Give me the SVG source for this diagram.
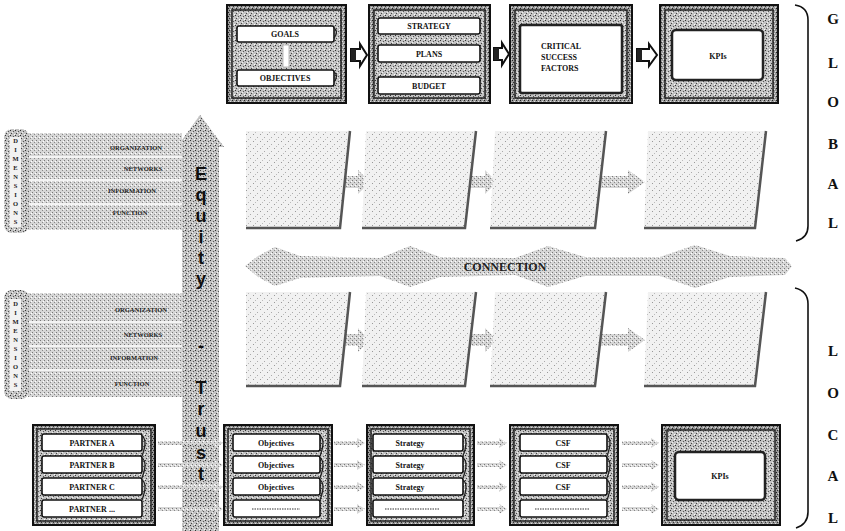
<svg xmlns="http://www.w3.org/2000/svg" width="845" height="531" viewBox="0 0 845 531">
<defs>
  <pattern id="pm" width="5" height="5" patternUnits="userSpaceOnUse">
    <rect width="5" height="5" fill="#c2c2c2"/>
    <rect x="0" y="0" width="1" height="1" fill="#333"/>
    <rect x="3" y="1" width="1" height="1" fill="#555"/>
    <rect x="1" y="3" width="1" height="1" fill="#444"/>
    <rect x="4" y="4" width="1" height="1" fill="#fff"/>
    <rect x="2" y="2" width="1" height="1" fill="#eee"/>
  </pattern>
  <pattern id="pd" width="4" height="4" patternUnits="userSpaceOnUse">
    <rect width="4" height="4" fill="#9a9a9a"/>
    <rect x="0" y="0" width="1" height="1" fill="#222"/>
    <rect x="2" y="1" width="1" height="1" fill="#e0e0e0"/>
    <rect x="1" y="2" width="1" height="1" fill="#333"/>
    <rect x="3" y="3" width="1" height="1" fill="#ddd"/>
  </pattern>
  <pattern id="pl" width="7" height="7" patternUnits="userSpaceOnUse">
    <rect width="7" height="7" fill="#f1f1f1"/>
    <rect x="1" y="1" width="1" height="1" fill="#999"/>
    <rect x="5" y="4" width="1" height="1" fill="#aaa"/>
    <rect x="3" y="6" width="1" height="1" fill="#bbb"/>
  </pattern>
  <pattern id="pb" width="4" height="4" patternUnits="userSpaceOnUse">
    <rect width="4" height="4" fill="#d6d6d6"/>
    <rect x="0" y="0" width="1" height="1" fill="#777"/>
    <rect x="2" y="2" width="1" height="1" fill="#888"/>
    <rect x="3" y="1" width="1" height="1" fill="#fff"/>
  </pattern>
  <style>
    .frame{fill:url(#pd);stroke:#111;stroke-width:2}
    .inner{fill:url(#pm);stroke:#222;stroke-width:1.5}
    .bar{fill:#fff;stroke:#111;stroke-width:1.6}
    .curl{fill:none;stroke:#222;stroke-width:1.3}
    .win{fill:#fff;stroke:#222;stroke-width:2.5}
    .t{font-family:"Liberation Serif",serif;font-weight:bold;font-size:8px;fill:#111;text-anchor:middle}
    .tl{font-family:"Liberation Serif",serif;font-weight:bold;font-size:8px;fill:#111;text-anchor:start}
    .ts{font-family:"Liberation Serif",serif;font-weight:bold;font-size:6.5px;fill:#222;text-anchor:middle}
    .big{font-family:"Liberation Serif",serif;font-weight:bold;font-size:15px;fill:#111;text-anchor:middle}
    .eq{font-family:"Liberation Sans",Arial,sans-serif;font-weight:bold;font-size:18px;fill:#111;text-anchor:middle}
    .para{fill:url(#pl)}
    .edge{fill:none;stroke:#555;stroke-width:2.5}
    .fz{fill:url(#pb)}
    .blk{fill:#fff;stroke:#111;stroke-width:2}
    .brk{fill:none;stroke:#111;stroke-width:1.6}
    .dot{stroke:#333;stroke-width:1;stroke-dasharray:1.5 1}
    .row{stroke:#f4f4f4;stroke-width:2}
  </style>
</defs>
<rect width="845" height="531" fill="#fff"/>

<!-- Equity-Trust vertical arrow -->
<g id="equity-trust">
  <polygon points="200,115 224,147 219,147 219,531 182,531 182,147 177,147" fill="url(#pm)"/>
  <text class="eq" x="201" y="180">E</text>
  <text class="eq" x="201" y="201">q</text>
  <text class="eq" x="201" y="222">u</text>
  <text class="eq" x="201" y="243">i</text>
  <text class="eq" x="201" y="264">t</text>
  <text class="eq" x="201" y="285">y</text>
  <text class="eq" x="201" y="352">-</text>
  <text class="eq" x="201" y="394">T</text>
  <text class="eq" x="201" y="415">r</text>
  <text class="eq" x="201" y="437">u</text>
  <text class="eq" x="201" y="459">s</text>
  <text class="eq" x="201" y="480">t</text>
</g>

<!-- Left stubs -->
<g id="global-stub">
  <rect x="28" y="133" width="154" height="97" fill="url(#pb)"/>
  <line class="row" x1="28" y1="157" x2="182" y2="157"/>
  <line class="row" x1="28" y1="180" x2="182" y2="180"/>
  <line class="row" x1="28" y1="204" x2="182" y2="204"/>
  <rect x="4" y="129" width="25" height="104" rx="8" fill="url(#pm)"/>
  <rect x="10" y="137" width="11" height="90" fill="#f2f2f2"/>
  <text class="ts" x="15.5" y="143">D<tspan x="15.5" dy="9">I</tspan><tspan x="15.5" dy="9">M</tspan><tspan x="15.5" dy="9">E</tspan><tspan x="15.5" dy="9">N</tspan><tspan x="15.5" dy="9">S</tspan><tspan x="15.5" dy="9">I</tspan><tspan x="15.5" dy="9">O</tspan><tspan x="15.5" dy="9">N</tspan><tspan x="15.5" dy="9">S</tspan></text>
  <text class="ts" x="136" y="150">ORGANIZATION</text>
  <text class="ts" x="143" y="171">NETWORKS</text>
  <text class="ts" x="132" y="193">INFORMATION</text>
  <text class="ts" x="130" y="215">FUNCTION</text>
</g>
<g id="local-stub">
  <rect x="28" y="293" width="154" height="104" fill="url(#pb)"/>
  <line class="row" x1="28" y1="322" x2="182" y2="322"/>
  <line class="row" x1="28" y1="346" x2="182" y2="346"/>
  <line class="row" x1="28" y1="370" x2="182" y2="370"/>
  <rect x="4" y="290" width="25" height="109" rx="8" fill="url(#pm)"/>
  <rect x="10" y="299" width="11" height="92" fill="#f2f2f2"/>
  <text class="ts" x="15.5" y="306">D<tspan x="15.5" dy="9">I</tspan><tspan x="15.5" dy="9">M</tspan><tspan x="15.5" dy="9">E</tspan><tspan x="15.5" dy="9">N</tspan><tspan x="15.5" dy="9">S</tspan><tspan x="15.5" dy="9">I</tspan><tspan x="15.5" dy="9">O</tspan><tspan x="15.5" dy="9">N</tspan><tspan x="15.5" dy="9">S</tspan></text>
  <text class="ts" x="141" y="312">ORGANIZATION</text>
  <text class="ts" x="143" y="337">NETWORKS</text>
  <text class="ts" x="134" y="360">INFORMATION</text>
  <text class="ts" x="132" y="386">FUNCTION</text>
</g>

<!-- Connectors -->
<g id="connectors">
  <polygon class="blk" points="351,49 360,49 360,44 367,55 360,66 360,61 351,61"/>
  <rect x="351" y="49" width="5" height="12" fill="#222"/>
  <polygon class="blk" points="494,48 502,48 502,43 509,54 502,65 502,60 494,60"/>
  <rect x="494" y="48" width="5" height="12" fill="#222"/>
  <polygon class="blk" points="637,49 649,49 649,44 657,55 649,66 649,61 637,61"/>
  <rect x="637" y="49" width="5" height="12" fill="#222"/>
  <polygon class="fz" points="343,176 358,176 358,170 370,182 358,194 358,188 343,188"/>
  <polygon class="fz" points="470,176 485,176 485,170 497,182 485,194 485,188 470,188"/>
  <polygon class="fz" points="600,176 628,176 628,170 645,182 628,194 628,188 600,188"/>
  <polygon class="fz" points="343,334 358,334 358,328 370,340 358,352 358,346 343,346"/>
  <polygon class="fz" points="470,334 485,334 485,328 497,340 485,352 485,346 470,346"/>
  <polygon class="fz" points="600,334 628,334 628,328 645,340 628,352 628,346 600,346"/>
  <path class="fz" d="M245,266 L258,256 L275,247 L300,256 L380,258 L410,246 L440,257 L515,258 L548,246 L585,257 L660,257 L695,245 L730,256 L785,258 L792,266 L785,275 L730,277 L695,288 L660,276 L585,276 L548,287 L515,275 L440,277 L410,287 L380,276 L300,278 L275,286 L258,277 Z"/>
  <text x="505" y="271" font-family="Liberation Serif, serif" font-weight="bold" font-size="12" fill="#222" text-anchor="middle">CONNECTION</text>
  <g fill="url(#pb)">
    <polygon points="158,441 215,441 215,438 223,443 215,448 215,445 158,445"/>
    <polygon points="158,463 215,463 215,460 223,465 215,470 215,467 158,467"/>
    <polygon points="158,485 215,485 215,482 223,487 215,492 215,489 158,489"/>
    <polygon points="158,507 215,507 215,504 223,509 215,514 215,511 158,511"/>
    <polygon points="334,441 357,441 357,438 365,443 357,448 357,445 334,445"/>
    <polygon points="334,463 357,463 357,460 365,465 357,470 357,467 334,467"/>
    <polygon points="334,485 357,485 357,482 365,487 357,492 357,489 334,489"/>
    <polygon points="334,507 357,507 357,504 365,509 357,514 357,511 334,511"/>
    <polygon points="477,441 499,441 499,438 507,443 499,448 499,445 477,445"/>
    <polygon points="477,463 499,463 499,460 507,465 499,470 499,467 477,467"/>
    <polygon points="477,485 499,485 499,482 507,487 499,492 499,489 477,489"/>
    <polygon points="477,507 499,507 499,504 507,509 499,514 499,511 477,511"/>
    <polygon points="622,441 651,441 651,438 659,443 651,448 651,445 622,445"/>
    <polygon points="622,463 651,463 651,460 659,465 651,470 651,467 622,467"/>
    <polygon points="622,485 651,485 651,482 659,487 651,492 651,489 622,489"/>
    <polygon points="622,507 651,507 651,504 659,509 651,514 651,511 622,511"/>
  </g>
</g>

<!-- Global parallelograms -->
<g id="global-p1"><polygon class="para" points="246,131 350,131 340,228 246,228"/><path class="edge" d="M350,131 L340,228 L246,228"/></g>
<g id="global-p2"><polygon class="para" points="366,131 476,131 465,228 362,228"/><path class="edge" d="M476,131 L465,228 L362,228"/></g>
<g id="global-p3"><polygon class="para" points="495,131 606,131 595,228 490,228"/><path class="edge" d="M606,131 L595,228 L490,228"/></g>
<g id="global-p4"><polygon class="para" points="648,131 766,131 755,228 644,228"/><path class="edge" d="M766,131 L755,228 L644,228"/></g>

<!-- Local parallelograms -->
<g id="local-p1"><polygon class="para" points="246,292 350,292 340,386 246,386"/><path class="edge" d="M350,292 L340,386 L246,386"/></g>
<g id="local-p2"><polygon class="para" points="366,292 476,292 465,386 362,386"/><path class="edge" d="M476,292 L465,386 L362,386"/></g>
<g id="local-p3"><polygon class="para" points="495,292 606,292 595,386 490,386"/><path class="edge" d="M606,292 L595,386 L490,386"/></g>
<g id="local-p4"><polygon class="para" points="648,292 766,292 755,386 644,386"/><path class="edge" d="M766,292 L755,386 L644,386"/></g>

<!-- Top row boxes -->
<g id="goals">
  <rect class="frame" x="227" y="5" width="119" height="98"/>
  <rect class="inner" x="232" y="10" width="109" height="88"/>
  <rect class="bar" x="237" y="26" width="97" height="16" rx="2"/>
  <path class="curl" d="M334,28 q5,3 0,10"/>
  <text class="t" x="285" y="37">GOALS</text>
  <rect x="283" y="45" width="6" height="22" fill="#fff" stroke="#aaa" stroke-width="0.8"/>
  <rect class="bar" x="237" y="70" width="97" height="16" rx="2"/>
  <path class="curl" d="M334,72 q5,3 0,10"/>
  <text class="t" x="285" y="81">OBJECTIVES</text>
</g>
<g id="strategy">
  <rect class="frame" x="369" y="5" width="121" height="98"/>
  <rect class="inner" x="374" y="10" width="111" height="88"/>
  <rect class="bar" x="378" y="18" width="102" height="16" rx="2"/>
  <text class="t" x="429" y="29">STRATEGY</text>
  <rect class="bar" x="378" y="45" width="102" height="17" rx="2"/>
  <text class="t" x="429" y="57">PLANS</text>
  <rect class="bar" x="378" y="77" width="102" height="17" rx="2"/>
  <text class="t" x="429" y="89">BUDGET</text>
</g>
<g id="csf">
  <rect class="frame" x="510" y="5" width="122" height="98"/>
  <rect class="inner" x="515" y="10" width="112" height="88"/>
  <rect class="win" x="520" y="25" width="102" height="68" rx="2"/>
  <text class="tl" x="541" y="49">CRITICAL</text>
  <text class="tl" x="541" y="60">SUCCESS</text>
  <text class="tl" x="541" y="71">FACTORS</text>
</g>
<g id="kpis-global">
  <rect class="frame" x="660" y="5" width="118" height="98"/>
  <rect class="inner" x="665" y="10" width="108" height="88"/>
  <rect class="win" x="672" y="30" width="91" height="50" rx="4"/>
  <text class="t" x="718" y="59">KPIs</text>
</g>

<!-- Bottom row boxes -->
<g id="partners">
  <rect class="frame" x="33" y="425" width="122" height="100"/>
  <rect class="inner" x="37" y="429" width="114" height="92"/>
  <rect class="bar" x="42" y="434" width="100" height="17" rx="2"/><path class="curl" d="M142,436 q6,4 0,20"/>
  <text class="t" x="92" y="446">PARTNER A</text>
  <rect class="bar" x="42" y="456" width="100" height="17" rx="2"/><path class="curl" d="M142,458 q6,4 0,20"/>
  <text class="t" x="92" y="468">PARTNER B</text>
  <rect class="bar" x="42" y="478" width="100" height="17" rx="2"/><path class="curl" d="M142,480 q6,4 0,20"/>
  <text class="t" x="92" y="490">PARTNER C</text>
  <rect class="bar" x="42" y="500" width="100" height="17" rx="2"/>
  <text class="t" x="92" y="512">PARTNER ...</text>
</g>
<g id="objectives">
  <rect class="frame" x="224" y="425" width="108" height="100"/>
  <rect class="inner" x="228" y="429" width="100" height="92"/>
  <rect class="bar" x="233" y="434" width="87" height="17" rx="2"/><path class="curl" d="M320,436 q6,4 0,20"/>
  <text class="t" x="276" y="446">Objectives</text>
  <rect class="bar" x="233" y="456" width="87" height="17" rx="2"/><path class="curl" d="M320,458 q6,4 0,20"/>
  <text class="t" x="276" y="468">Objectives</text>
  <rect class="bar" x="233" y="478" width="87" height="17" rx="2"/><path class="curl" d="M320,480 q6,4 0,20"/>
  <text class="t" x="276" y="490">Objectives</text>
  <rect class="bar" x="233" y="500" width="87" height="17" rx="2"/>
  <line class="dot" x1="252" y1="509" x2="300" y2="509"/>
</g>
<g id="strategies">
  <rect class="frame" x="367" y="425" width="107" height="100"/>
  <rect class="inner" x="371" y="429" width="99" height="92"/>
  <rect class="bar" x="373" y="434" width="90" height="17" rx="2"/><path class="curl" d="M463,436 q6,4 0,20"/>
  <text class="t" x="410" y="446">Strategy</text>
  <rect class="bar" x="373" y="456" width="90" height="17" rx="2"/><path class="curl" d="M463,458 q6,4 0,20"/>
  <text class="t" x="410" y="468">Strategy</text>
  <rect class="bar" x="373" y="478" width="90" height="17" rx="2"/><path class="curl" d="M463,480 q6,4 0,20"/>
  <text class="t" x="410" y="490">Strategy</text>
  <rect class="bar" x="373" y="500" width="90" height="17" rx="2"/>
  <line class="dot" x1="385" y1="509" x2="440" y2="509"/>
</g>
<g id="csfs">
  <rect class="frame" x="510" y="425" width="108" height="100"/>
  <rect class="inner" x="514" y="429" width="100" height="92"/>
  <rect class="bar" x="520" y="434" width="87" height="17" rx="2"/><path class="curl" d="M607,436 q6,4 0,20"/>
  <text class="t" x="563" y="446">CSF</text>
  <rect class="bar" x="520" y="456" width="87" height="17" rx="2"/><path class="curl" d="M607,458 q6,4 0,20"/>
  <text class="t" x="563" y="468">CSF</text>
  <rect class="bar" x="520" y="478" width="87" height="17" rx="2"/><path class="curl" d="M607,480 q6,4 0,20"/>
  <text class="t" x="563" y="490">CSF</text>
  <rect class="bar" x="520" y="500" width="87" height="17" rx="2"/>
  <line class="dot" x1="535" y1="509" x2="590" y2="509"/>
</g>
<g id="kpis-local">
  <rect class="frame" x="662" y="425" width="118" height="100"/>
  <rect class="inner" x="667" y="430" width="108" height="90"/>
  <rect class="win" x="675" y="452" width="90" height="48" rx="4"/>
  <text class="t" x="720" y="479">KPIs</text>
</g>

<!-- Scope brackets -->
<g id="global-label">
  <path class="brk" d="M795,5 Q808,7 808,20 L808,226 Q808,238 796,241"/>
  <text class="big" x="833" y="24">G</text>
  <text class="big" x="833" y="68">L</text>
  <text class="big" x="833" y="107">O</text>
  <text class="big" x="833" y="149">B</text>
  <text class="big" x="833" y="189">A</text>
  <text class="big" x="833" y="228">L</text>
</g>
<g id="local-label">
  <path class="brk" d="M795,288 Q808,291 808,304 L808,512 Q808,524 796,528"/>
  <text class="big" x="833" y="356">L</text>
  <text class="big" x="833" y="398">O</text>
  <text class="big" x="833" y="440">C</text>
  <text class="big" x="833" y="481">A</text>
  <text class="big" x="833" y="523">L</text>
</g>
</svg>
